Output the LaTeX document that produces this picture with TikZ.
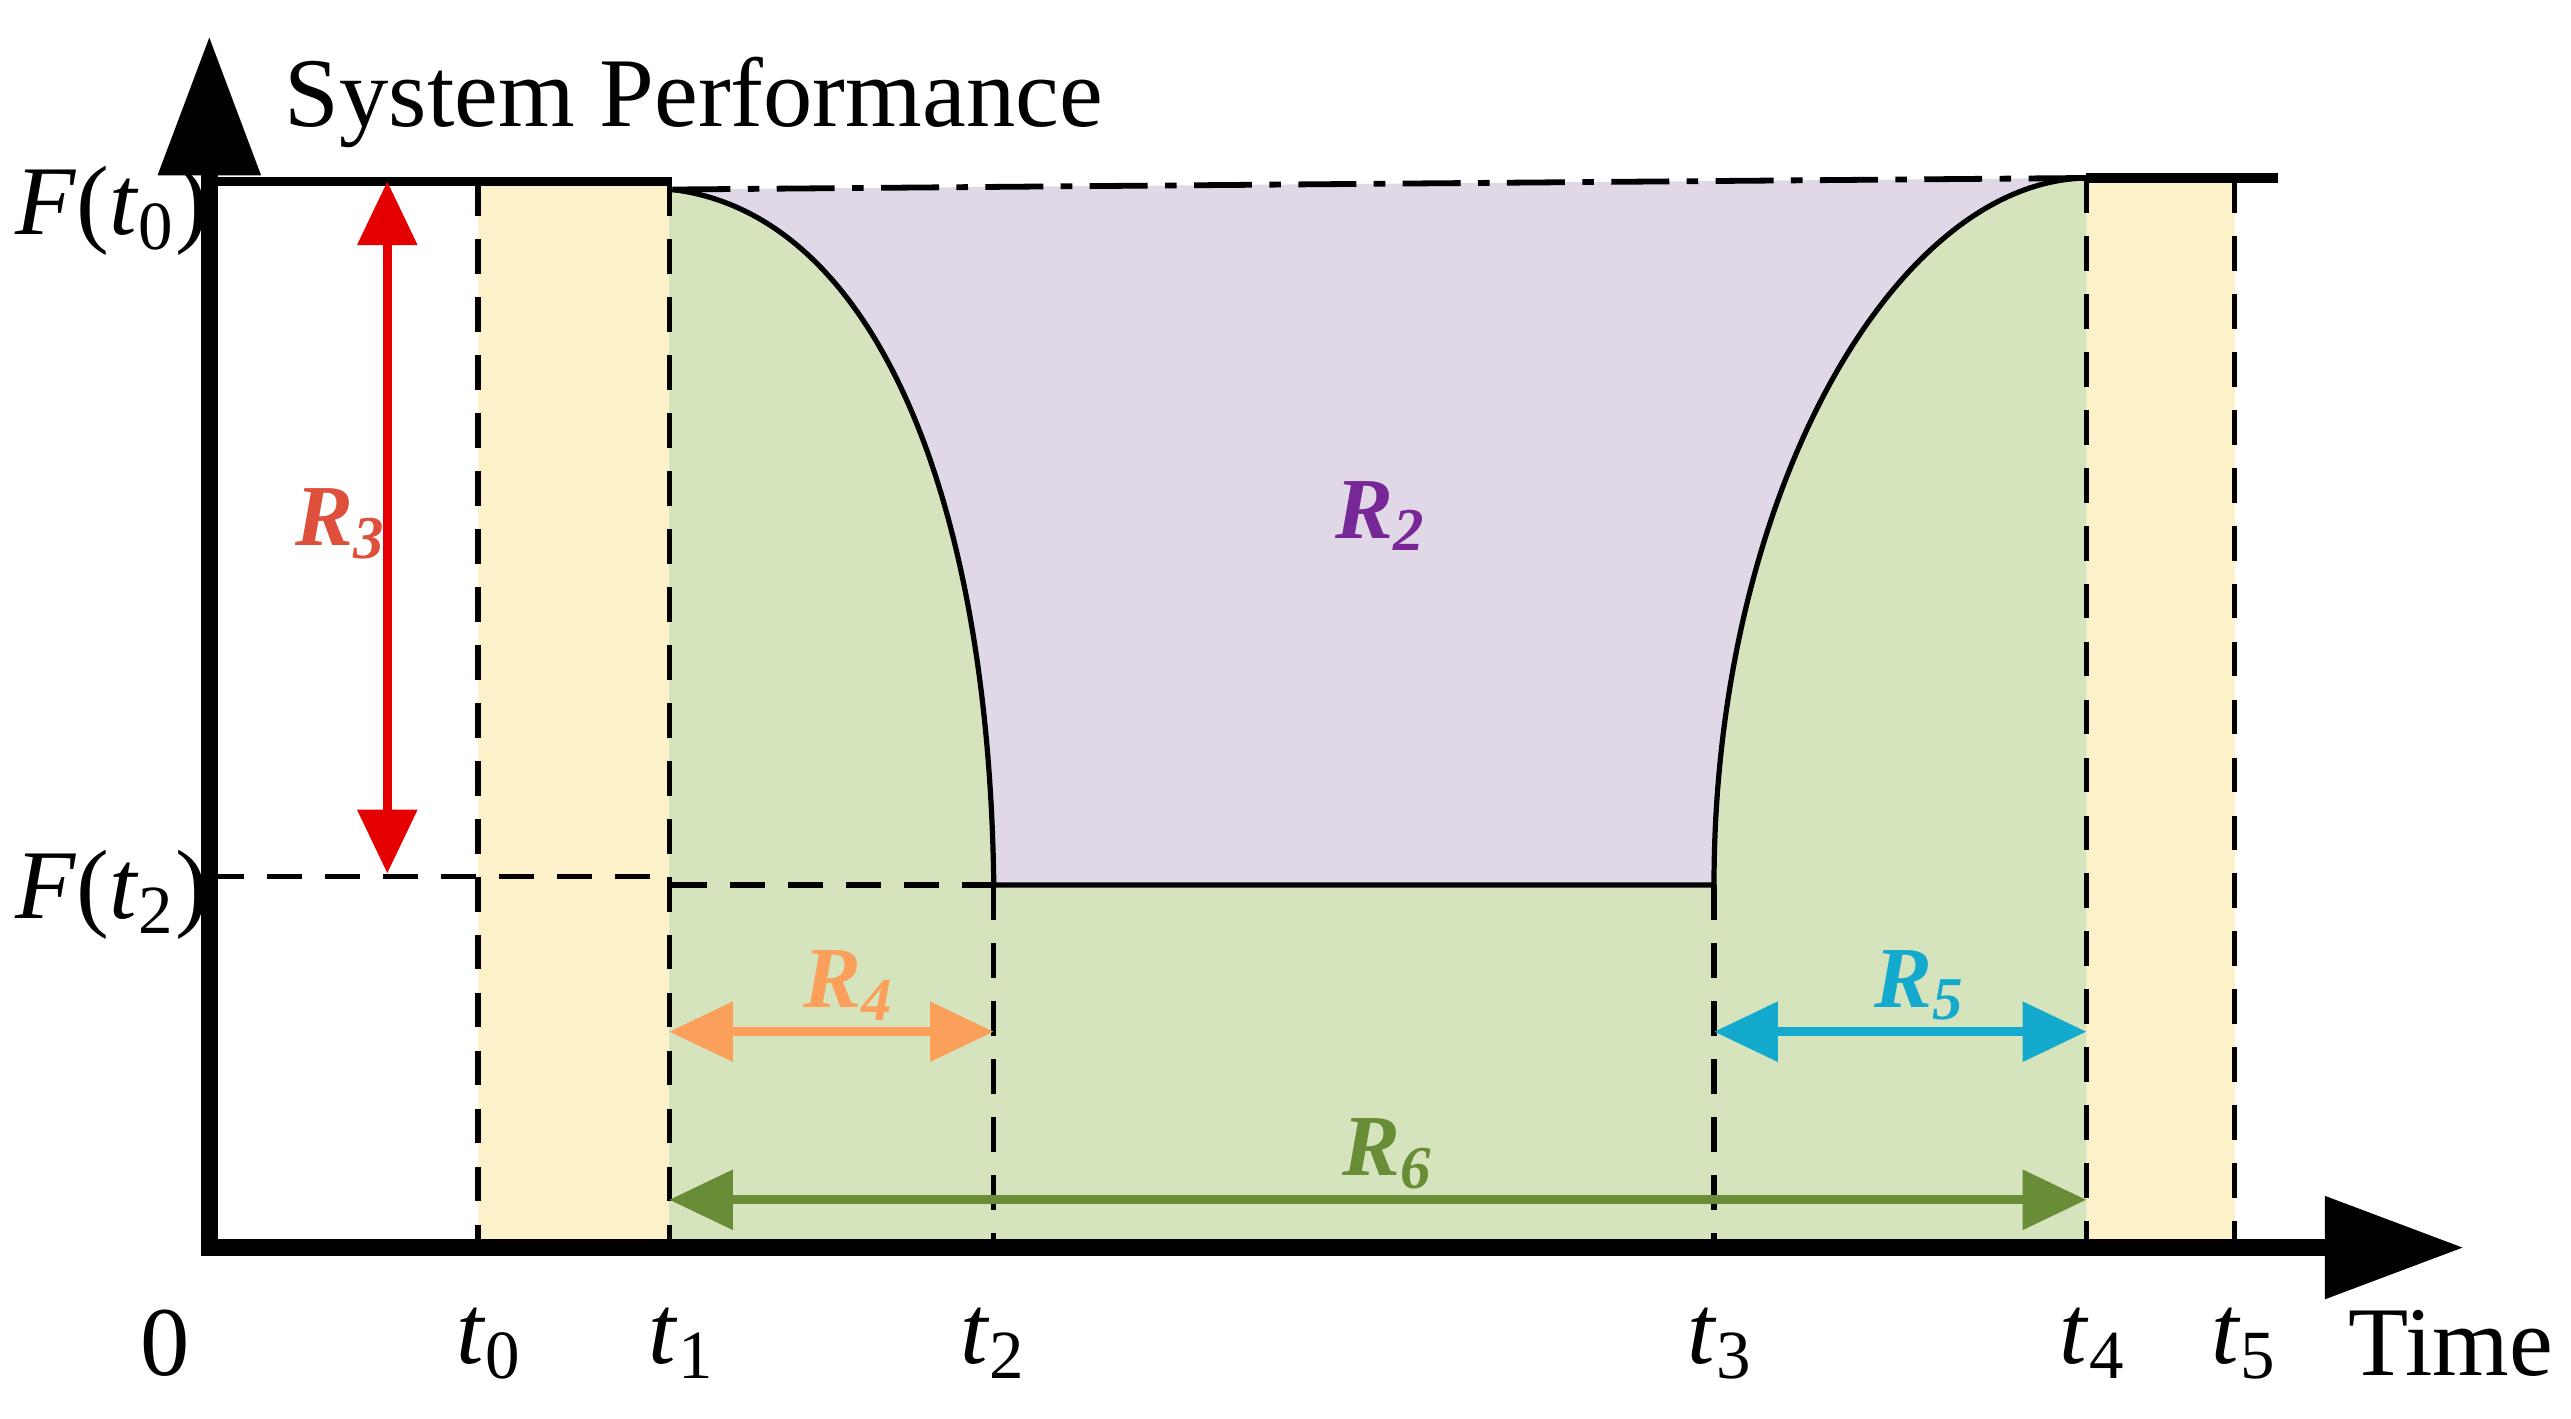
\documentclass[tikz,border=0pt]{standalone}
\usepackage{fontspec}
\setmainfont{Liberation Serif}
\usetikzlibrary{arrows.meta}
\definecolor{yel}{RGB}{253,241,201}
\definecolor{grn}{RGB}{213,228,189}
\definecolor{pur}{RGB}{224,216,230}
\definecolor{rr}{RGB}{228,0,0}
\definecolor{rt}{RGB}{222,80,60}
\definecolor{oo}{RGB}{250,160,90}
\definecolor{cc}{RGB}{20,170,205}
\definecolor{gg}{RGB}{105,140,55}
\definecolor{pp}{RGB}{120,40,150}
\begin{document}
\begin{tikzpicture}[x=0.01cm,y=-0.01cm,
  vd/.style={line width=0.9pt,dash pattern=on 6pt off 4pt},
  dim/.style={line width=1.6pt,{Triangle[length=11pt,width=10pt]}-{Triangle[length=11pt,width=10pt]}},
  rl/.style={font=\fontsize{15}{15}\selectfont\bfseries\itshape},
  tl/.style={font=\fontsize{17}{17}\selectfont}]
\useasboundingbox (0,0) rectangle (1560,861);
\fill[yel] (290,110) rectangle (406,757);
\fill[yel] (1266,108) rectangle (1356,757);
\fill[pur] (408,115) -- (1266,108) .. controls (1150,110) and (1040,300) .. (1040,537) -- (603,537) .. controls (600,300) and (530,130) .. (408,115) -- cycle;
\fill[grn] (406,115) -- (408,115) .. controls (530,130) and (600,300) .. (603,537) -- (1040,537) .. controls (1040,300) and (1150,110) .. (1266,108) -- (1266,757) -- (406,757) -- cycle;
\draw[line width=0.9pt] (408,115) .. controls (530,130) and (600,300) .. (603,537) -- (1040,537) .. controls (1040,300) and (1150,110) .. (1266,108);
\draw[line width=1.6pt] (127,110) -- (408,110);
\draw[line width=1.6pt] (1266,108) -- (1382,108);
\draw[line width=1pt,dash pattern=on 10pt off 3pt on 2pt off 3pt] (408,115) -- (1266,108);
\draw[vd] (127,532) -- (408,532);
\draw[vd] (408,537) -- (603,537);
\foreach \x/\y in {290/110,406/110,1356/108,1266/108,603/537,1040/537}
  \draw[vd] (\x,\y) -- (\x,757);
\coordinate (o) at (127,757);
\coordinate (ytip) at (127,22);
\coordinate (xtip) at (1495,757);
\draw[line width=3pt,-{Triangle[length=24pt,width=17pt]}] (o) -- (ytip);
\draw[line width=3pt,-{Triangle[length=24pt,width=17pt]}] ([xshift=-1.5pt]o) -- (xtip);
\coordinate (a1) at (235,110); \coordinate (a2) at (235,530);
\draw[dim,rr] (a1) -- (a2);
\coordinate (b1) at (406,626); \coordinate (b2) at (603,626);
\draw[dim,oo] (b1) -- (b2);
\coordinate (c1) at (1040,626); \coordinate (c2) at (1266,626);
\draw[dim,cc] (c1) -- (c2);
\coordinate (d1) at (406,728); \coordinate (d2) at (1266,728);
\draw[dim,gg] (d1) -- (d2);
\node[rl,text=rt] (r3) at (207,318) {R\textsubscript{3}};
\node[rl,text=oo] (r4) at (515,598) {R\textsubscript{4}};
\node[rl,text=cc] (r5) at (1165,598) {R\textsubscript{5}};
\node[rl,text=gg] (r6) at (842,700) {R\textsubscript{6}};
\node[rl,text=pp] (r2) at (838,313) {R\textsubscript{2}};
\node[font=\fontsize{17}{17}\selectfont] (sp) at (421,62) {System Performance};
\node[tl] (ft0) at (68,128) {\textit{F}(\textit{t}\textsubscript{0})};
\node[tl] (ft2) at (68,543) {\textit{F}(\textit{t}\textsubscript{2})};
\node[tl] (z) at (100,815) {0};
\foreach \x/\n in {297/0,414/1,603/2,1044/3,1270/4,1362/5}
  \node[tl] (t\n) at (\x,815) {\textit{t}\textsubscript{\n}};
\node[tl] (time) at (1487,815) {Time};
\end{tikzpicture}
\end{document}
